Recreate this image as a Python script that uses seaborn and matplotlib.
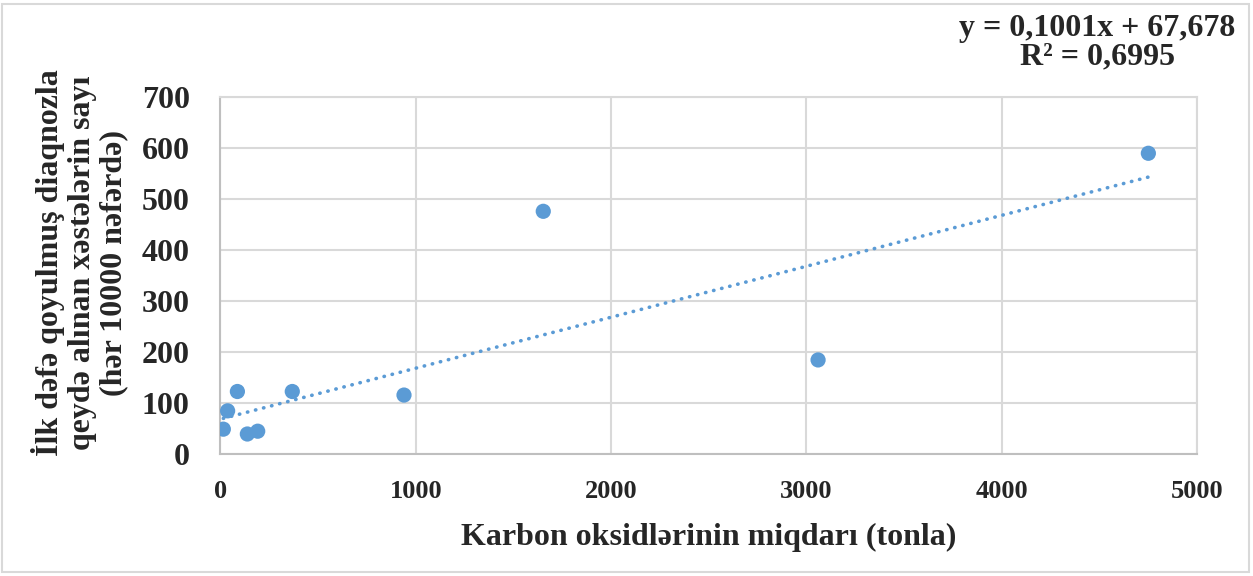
import numpy as np
import pandas as pd
import matplotlib
matplotlib.use("Agg")
import matplotlib.pyplot as plt
from matplotlib.patches import Rectangle
import seaborn as sns

# Data
co_tons = [15, 37, 87, 138, 191, 368, 940, 1653, 3060, 4751]
patients = [48, 84, 122, 38.5, 44, 122, 115, 476, 184, 590]
trend_slope = 0.1001
trend_intercept = 67.678
trend_r2 = 0.6995
x_ticks = [0, 1000, 2000, 3000, 4000, 5000]
y_ticks = [0, 100, 200, 300, 400, 500, 600, 700]
x_label = "Karbon oksidlərinin miqdarı (tonla)"
y_label = "İlk dəfə qoyulmuş diaqnozla\nqeydə alınan xəstələrin sayı\n(hər 10000 nəfərdə)"

df = pd.DataFrame({"x": co_tons, "y": patients})

sns.set_theme(style="white")
plt.rcParams["font.family"] = ["Liberation Serif", "DejaVu Serif"]
plt.rcParams["font.weight"] = "bold"

blue = "#5B9BD5"
grid_c = "#D9D9D9"

fig = plt.figure(figsize=(12.53, 5.76), dpi=100)
ax = fig.add_axes([0.1759, 0.2125, 0.9553 - 0.1759, 0.8311 - 0.2125])

sns.scatterplot(data=df, x="x", y="y", ax=ax, color=blue, s=120,
                edgecolor="none", zorder=3)

tx = np.array([min(co_tons), max(co_tons)])
trend_df = pd.DataFrame({"x": tx, "y": trend_slope * tx + trend_intercept})
sns.lineplot(data=trend_df, x="x", y="y", ax=ax, color=blue, lw=2.6,
             linestyle=(0, (0.1, 2.2)), dash_capstyle="round", zorder=2)

ax.set_xlim(0, 5000)
ax.set_ylim(0, 700)
ax.set_xticks(x_ticks)
ax.set_yticks(y_ticks)
ax.grid(True, color=grid_c, lw=1.5)
ax.set_axisbelow(True)
for side in ["top", "right"]:
    ax.spines[side].set_color(grid_c)
    ax.spines[side].set_linewidth(1.5)
for side in ["left", "bottom"]:
    ax.spines[side].set_color("#BFBFBF")
    ax.spines[side].set_linewidth(1.5)
ax.tick_params(axis="both", length=0)
ax.tick_params(axis="y", pad=22, labelsize=23)
ax.tick_params(axis="x", pad=19, labelsize=19)
for lab in ax.get_xticklabels() + ax.get_yticklabels():
    lab.set_fontweight("bold")

ax.set_xlabel(x_label, fontsize=23, fontweight="bold")
ax.xaxis.label.set_va("center")
ax.xaxis.set_label_coords(0.5, -0.234)
ax.set_ylabel(y_label, fontsize=23, fontweight="bold", linespacing=1.12)
ax.yaxis.label.set_va("center")
ax.yaxis.set_label_coords(-0.144, 0.535)

fig.text(1097 / 1253, 1 - 43 / 576,
         f"y = {str(trend_slope).replace('.', ',')}x + {str(trend_intercept).replace('.', ',')}\n"
         f"R² = {str(trend_r2).replace('.', ',')}",
         ha="center", va="center", fontsize=23, fontweight="bold",
         multialignment="center", linespacing=0.98)

fig.patches.append(Rectangle((2 / 1253, 4 / 576), 1247 / 1253, 568 / 576,
                             transform=fig.transFigure, fill=False,
                             edgecolor=grid_c, lw=1.5))

fig.savefig("out.png", dpi=100)
